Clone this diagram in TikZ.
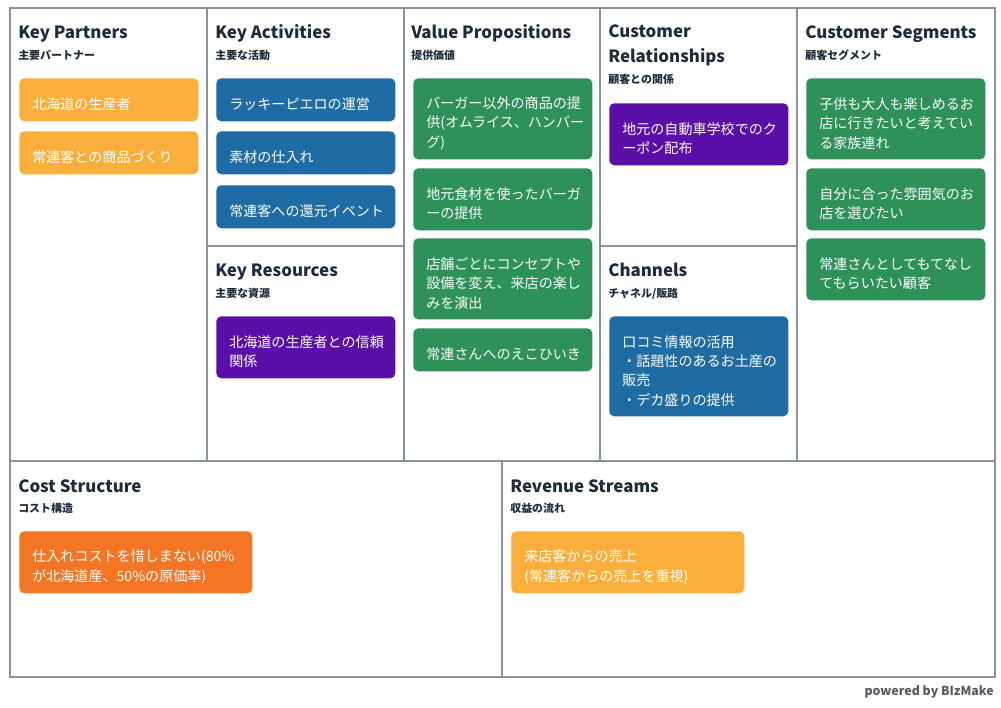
\documentclass[tikz,border=0pt]{standalone}
\usepackage{fontspec}
\setmainfont{Noto Sans CJK JP}
\usetikzlibrary{positioning}
\definecolor{gridc}{HTML}{8A939D}
\definecolor{headc}{HTML}{1E2B3A}
\definecolor{orangec}{HTML}{FAAF3C}
\definecolor{bluec}{HTML}{1F6CA5}
\definecolor{purplec}{HTML}{5A0FA8}
\definecolor{greenc}{HTML}{2E9159}
\definecolor{redc}{HTML}{F47625}
\definecolor{footc}{HTML}{555B62}

\begin{document}
\begin{tikzpicture}[
    x=0.025cm, y=-0.025cm,
    grid/.style={draw=gridc, line width=0.75pt},
    head/.style={anchor=base west, inner sep=0pt, align=left, text=headc, font=\bfseries\fontsize{12}{17.8}\selectfont},
    sub/.style={anchor=base west, inner sep=0pt, text=headc, font=\bfseries\fontsize{7.8}{9}\selectfont},
    note/.style={anchor=north west, rounded corners=0.125cm, text=white, text width=3.825cm, inner xsep=0.325cm, inner ysep=0pt, align=left, font=\fontsize{10}{13.8}\selectfont, execute at begin node={\rule{0pt}{15pt}}},
    wide/.style={text width=5.175cm},
    one/.style={minimum height=1.075cm},
    two/.style={minimum height=1.55cm},
    three/.style={minimum height=2.025cm},
    four/.style={minimum height=2.5cm}
]
    \useasboundingbox (0,0) rectangle (1001,708);

    \draw[grid] (10,8) rectangle (995,677);
    \draw[grid] (10,461) -- (995,461);
    \foreach \x in {207,404,600,797}
        \draw[grid] (\x,8) -- (\x,461);
    \draw[grid] (207,246) -- (404,246);
    \draw[grid] (600,246) -- (797,246);
    \draw[grid] (502,461) -- (502,677);

    \node[head] (kp) at (18,39) {Key Partners};
    \node[sub] (kpj) at (18,60) {主要パートナー};
    \node[note, one, fill=orangec] (kp1) at (19,78) {北海道の生産者};
    \node[note, one, fill=orangec] (kp2) at (19,131) {常連客との商品づくり};

    \node[head] (ka) at (215,39) {Key Activities};
    \node[sub] (kaj) at (215,60) {主要な活動};
    \node[note, one, fill=bluec] (ka1) at (216,78) {ラッキーピエロの運営};
    \node[note, one, fill=bluec] (ka2) at (216,131) {素材の仕入れ};
    \node[note, one, fill=bluec] (ka3) at (216,185) {常連客への還元イベント};

    \node[head] (kr) at (215,277) {Key Resources};
    \node[sub] (krj) at (215,298) {主要な資源};
    \node[note, two, fill=purplec] (kr1) at (216,316) {北海道の生産者との信頼\\関係};

    \node[head] (vp) at (411,39) {Value Propositions};
    \node[sub] (vpj) at (411,60) {提供価値};
    \node[note, three, fill=greenc] (vp1) at (413,78) {バーガー以外の商品の提\\供(オムライス、ハンバー\\グ)};
    \node[note, two, fill=greenc] (vp2) at (413,168) {地元食材を使ったバーガ\\ーの提供};
    \node[note, three, fill=greenc] (vp3) at (413,238) {店舗ごとにコンセプトや\\設備を変え、来店の楽し\\みを演出};
    \node[note, one, fill=greenc] (vp4) at (413,328) {常連さんへのえこひいき};

    \node[head] (cr) at (608,63) {Customer\\Relationships};
    \node[sub] (crj) at (608,84) {顧客との関係};
    \node[note, two, fill=purplec] (cr1) at (609,103) {地元の自動車学校でのク\\ーポン配布};

    \node[head] (ch) at (608,277) {Channels};
    \node[sub] (chj) at (608,298) {チャネル/販路};
    \node[note, four, fill=bluec] (ch1) at (609,316) {口コミ情報の活用\\・話題性のあるお土産の\\販売\\・デカ盛りの提供};

    \node[head] (cs) at (805,39) {Customer Segments};
    \node[sub] (csj) at (805,60) {顧客セグメント};
    \node[note, three, fill=greenc] (cs1) at (806,78) {子供も大人も楽しめるお\\店に行きたいと考えてい\\る家族連れ};
    \node[note, two, fill=greenc] (cs2) at (806,168) {自分に合った雰囲気のお\\店を選びたい};
    \node[note, two, fill=greenc] (cs3) at (806,238) {常連さんとしてもてなし\\てもらいたい顧客};

    \node[head] (cost) at (18,492) {Cost Structure};
    \node[sub] (costj) at (18,513) {コスト構造};
    \node[note, wide, two, fill=redc] (cost1) at (19,531) {仕入れコストを惜しまない(80\%\\が北海道産、50\%の原価率)};

    \node[head] (rs) at (510,492) {Revenue Streams};
    \node[sub] (rsj) at (510,513) {収益の流れ};
    \node[note, wide, two, fill=orangec] (rs1) at (511,531) {来店客からの売上\\(常連客からの売上を重視)};

    \node[anchor=base east, inner sep=0pt, text=footc, font=\bfseries\fontsize{8.8}{10}\selectfont] (foot) at (994,695) {powered by BIzMake};
\end{tikzpicture}
\end{document}
